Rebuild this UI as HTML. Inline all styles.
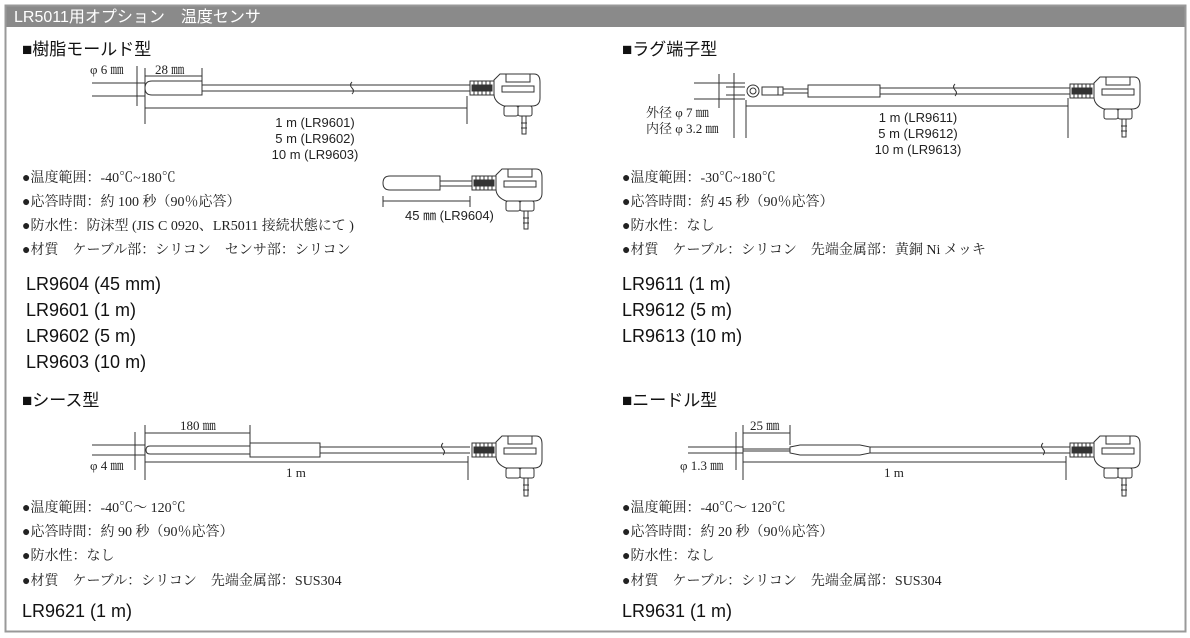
<!DOCTYPE html>
<html><head><meta charset="utf-8"><style>
body{margin:0;background:#fff;width:1190px;height:638px;overflow:hidden}
svg{display:block}
.s{font-family:"Liberation Serif","Noto Serif CJK SC",serif;font-size:14px;fill:#222}
.h{font-family:"Liberation Sans","Noto Sans CJK JP",sans-serif;font-size:17px;fill:#111}
.m{font-family:"Liberation Sans",sans-serif;font-size:18px;fill:#111}
.d{font-family:"Liberation Serif","Noto Serif CJK SC",serif;font-size:13px;fill:#222}
.ds{font-family:"Liberation Sans",sans-serif;font-size:13px;fill:#222}
</style></head><body>
<svg width="1190" height="638" viewBox="0 0 1190 638">
<defs>
<g id="con" fill="none" stroke="#333">
<rect x="0" y="-7" width="24" height="14" fill="#fff"/>
<line x1="4" y1="-7" x2="4" y2="7"/><line x1="8" y1="-7" x2="8" y2="7"/><line x1="12" y1="-7" x2="12" y2="7"/><line x1="16" y1="-7" x2="16" y2="7"/><line x1="20" y1="-7" x2="20" y2="7"/>
<rect x="2" y="-3" width="20" height="6" fill="#333"/>
<path d="M24 -8 L30 -14 L64 -14 Q70 -14 70 -6 L70 10 Q70 18 62 18 L34 18 Q24 14 24 6 Z" fill="#fff"/>
<rect x="32" y="-2" width="32" height="6"/>
<rect x="36" y="-14" width="24" height="8"/>
<rect x="34" y="18" width="14" height="10" rx="2"/><rect x="48" y="18" width="14" height="10" rx="2"/>
<rect x="52" y="28" width="4" height="18" fill="#fff"/><line x1="51" y1="35" x2="57" y2="35"/><line x1="51" y1="40" x2="57" y2="40"/>
</g>
</defs>
<rect x="5" y="5" width="1181" height="22" fill="#8a8a8a"/>
<rect x="5.5" y="5.5" width="1180" height="626" fill="none" stroke="#999" stroke-width="2"/>
<text x="14" y="22" font-family="Liberation Sans,'Noto Sans CJK JP',sans-serif" font-size="16" fill="#fff">LR5011用オプション　温度センサ</text>

<g fill="none" stroke="#333">
<!-- Section 1 -->
<line x1="145" y1="76" x2="202" y2="76"/><line x1="145" y1="68" x2="145" y2="124"/><line x1="202" y1="68" x2="202" y2="88"/>
<line x1="92" y1="83" x2="145" y2="83"/><line x1="92" y1="96" x2="145" y2="96"/>
<line x1="137" y1="66" x2="137" y2="106"/>
<path d="M202 81 L152 81 Q145 81 145 88 Q145 95 152 95 L202 95 Z" fill="#fff"/>
<line x1="202" y1="85" x2="470" y2="85"/><line x1="202" y1="91" x2="470" y2="91"/>
<path d="M352 82 q-3 3 0 6 q3 3 0 6"/>
<line x1="145" y1="108" x2="467" y2="108"/><line x1="467" y1="96" x2="467" y2="124"/>
<path d="M440 176 L390 176 Q383 176 383 183 Q383 190 390 190 L440 190 Z"/>
<line x1="440" y1="181" x2="472" y2="181"/><line x1="440" y1="186" x2="472" y2="186"/>
<line x1="383" y1="196" x2="383" y2="207"/><line x1="470" y1="196" x2="470" y2="207"/><line x1="383" y1="201" x2="470" y2="201"/>

<!-- Section 2 -->
<line x1="694" y1="83" x2="745" y2="83"/><line x1="694" y1="99" x2="745" y2="99"/>
<line x1="726" y1="87" x2="745" y2="87"/><line x1="726" y1="95" x2="745" y2="95"/>
<line x1="719" y1="74" x2="719" y2="108"/><line x1="734" y1="73" x2="734" y2="138"/>
<circle cx="753" cy="91" r="6"/><circle cx="753" cy="91" r="3"/>
<rect x="762" y="87" width="16" height="8"/><rect x="778" y="87" width="5" height="8"/>
<line x1="783" y1="89" x2="808" y2="89"/><line x1="783" y1="93" x2="808" y2="93"/>
<rect x="808" y="85" width="72" height="12"/>
<line x1="880" y1="88" x2="1070" y2="88"/><line x1="880" y1="94" x2="1070" y2="94"/>
<path d="M955 84 q-3 3 0 6 q3 3 0 6"/>
<line x1="746" y1="106" x2="1068" y2="106"/><line x1="746" y1="100" x2="746" y2="138"/><line x1="1068" y1="98" x2="1068" y2="138"/>

<!-- Section 3 -->
<line x1="145" y1="433" x2="250" y2="433"/><line x1="145" y1="425" x2="145" y2="480"/><line x1="250" y1="425" x2="250" y2="443"/>
<line x1="92" y1="445" x2="145" y2="445"/><line x1="92" y1="455" x2="145" y2="455"/>
<line x1="135" y1="432" x2="135" y2="470"/>
<path d="M250 446 L150 446 Q146 446 146 450 Q146 454 150 454 L250 454"/>
<rect x="250" y="443" width="70" height="14"/>
<line x1="320" y1="447" x2="470" y2="447"/><line x1="320" y1="453" x2="470" y2="453"/>
<path d="M443 443 q-3 3 0 6 q3 3 0 6"/>
<line x1="145" y1="462" x2="468" y2="462"/><line x1="468" y1="456" x2="468" y2="480"/>

<!-- Section 4 -->
<line x1="743" y1="433" x2="790" y2="433"/><line x1="743" y1="425" x2="743" y2="480"/><line x1="790" y1="425" x2="790" y2="445"/>
<line x1="688" y1="447" x2="743" y2="447"/><line x1="688" y1="453" x2="743" y2="453"/>
<line x1="736" y1="432" x2="736" y2="470"/>
<line x1="743" y1="449" x2="790" y2="449"/><line x1="743" y1="451" x2="790" y2="451"/>
<path d="M790 447 L800 445 L860 445 L870 447 L870 453 L860 455 L800 455 L790 453 Z"/>
<line x1="870" y1="447" x2="1070" y2="447"/><line x1="870" y1="453" x2="1070" y2="453"/>
<path d="M1043 443 q-3 3 0 6 q3 3 0 6"/>
<line x1="743" y1="462" x2="1066" y2="462"/><line x1="1066" y1="456" x2="1066" y2="480"/>
</g>
<use href="#con" x="470" y="88"/>
<use href="#con" x="472" y="183"/>
<use href="#con" x="1070" y="91"/>
<use href="#con" x="472" y="450"/>
<use href="#con" x="1070" y="450"/>

<text class="h" x="22" y="55">■樹脂モールド型</text>
<text class="d" x="90" y="74">φ 6 ㎜</text>
<text class="d" x="155" y="74">28 ㎜</text>
<text class="ds" x="315" y="127" text-anchor="middle">1 m (LR9601)</text>
<text class="ds" x="315" y="143" text-anchor="middle">5 m (LR9602)</text>
<text class="ds" x="315" y="159" text-anchor="middle">10 m (LR9603)</text>
<text class="ds" x="405" y="220">45 ㎜ (LR9604)</text>
<text class="s" x="22" y="182">●温度範囲：-40℃~180℃</text>
<text class="s" x="22" y="206">●応答時間：約 100 秒（90％応答）</text>
<text class="s" x="22" y="230">●防水性：防沫型 (JIS C 0920、LR5011 接続状態にて )</text>
<text class="s" x="22" y="254">●材質　ケーブル部：シリコン　センサ部：シリコン</text>
<text class="m" x="26" y="290">LR9604 (45 mm)</text>
<text class="m" x="26" y="316">LR9601 (1 m)</text>
<text class="m" x="26" y="342">LR9602 (5 m)</text>
<text class="m" x="26" y="368">LR9603 (10 m)</text>

<text class="h" x="622" y="55">■ラグ端子型</text>
<text class="d" x="646" y="117">外径 φ 7 ㎜</text>
<text class="d" x="646" y="133">内径 φ 3.2 ㎜</text>
<text class="ds" x="918" y="122" text-anchor="middle">1 m (LR9611)</text>
<text class="ds" x="918" y="138" text-anchor="middle">5 m (LR9612)</text>
<text class="ds" x="918" y="154" text-anchor="middle">10 m (LR9613)</text>
<text class="s" x="622" y="182">●温度範囲：-30℃~180℃</text>
<text class="s" x="622" y="206">●応答時間：約 45 秒（90％応答）</text>
<text class="s" x="622" y="230">●防水性：なし</text>
<text class="s" x="622" y="254">●材質　ケーブル：シリコン　先端金属部：黄銅 Ni メッキ</text>
<text class="m" x="622" y="290">LR9611 (1 m)</text>
<text class="m" x="622" y="316">LR9612 (5 m)</text>
<text class="m" x="622" y="342">LR9613 (10 m)</text>

<text class="h" x="22" y="406">■シース型</text>
<text class="d" x="180" y="430">180 ㎜</text>
<text class="d" x="90" y="470">φ 4 ㎜</text>
<text class="d" x="286" y="477">1 m</text>
<text class="s" x="22" y="512">●温度範囲：-40℃～ 120℃</text>
<text class="s" x="22" y="536">●応答時間：約 90 秒（90％応答）</text>
<text class="s" x="22" y="560">●防水性：なし</text>
<text class="s" x="22" y="585">●材質　ケーブル：シリコン　先端金属部：SUS304</text>
<text class="m" x="22" y="617">LR9621 (1 m)</text>

<text class="h" x="622" y="406">■ニードル型</text>
<text class="d" x="750" y="430">25 ㎜</text>
<text class="d" x="680" y="470">φ 1.3 ㎜</text>
<text class="d" x="884" y="477">1 m</text>
<text class="s" x="622" y="512">●温度範囲：-40℃～ 120℃</text>
<text class="s" x="622" y="536">●応答時間：約 20 秒（90％応答）</text>
<text class="s" x="622" y="560">●防水性：なし</text>
<text class="s" x="622" y="585">●材質　ケーブル：シリコン　先端金属部：SUS304</text>
<text class="m" x="622" y="617">LR9631 (1 m)</text>
</svg>
</body></html>
